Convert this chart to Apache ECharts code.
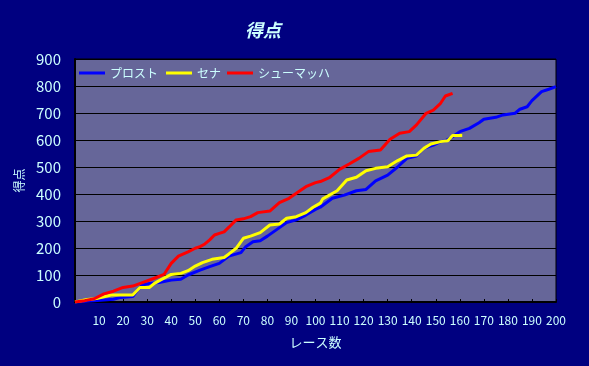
<!DOCTYPE html>
<html>
<head>
<meta charset="utf-8">
<script src="https://cdn.jsdelivr.net/npm/echarts@6/dist/echarts.min.js"></script>
<style>
html,body{margin:0;padding:0;background:#000080;}
#c{width:589px;height:366px;}
</style>
</head>
<body>
<div id="c"></div>
<script>
const titleText = '得点';
const yName = '得点';
const xName = 'レース数';
const seriesNames = ['プロスト', 'セナ', 'シューマッハ'];

const prostRaces = [0,8,16,19,24,26,28,31,35,40,44,47,52,56,60,64,69,71,74,77,80,84,88,92,96,100,102,107,112,117,121,125,130,134,138,142,145,149,152,154,157,160,164,168,170,175,178,183,185,188,190,194,197,200];
const prostPts   = [0,5,10,17,20,44,63,69,72,81,84,100,118,131,143,170,183,205,223,227,244,269,294,304,322,343,351,384,396,412,417,449,470,499,532,541,569,581,594,597,612,631,643,664,677,684,693,699,714,723,746,779,788,798];

const sennaRaces = [0,5,9,15,24,27,31,33,36,40,44,47,50,53,57,62,64,67,70,73,77,81,85,88,92,96,99,102,103,109,113,117,121,125,130,134,138,142,145,148,152,155,157,161];
const sennaPts   = [0,9,13,26,26,54,54,69,84,102,106,116,133,146,158,165,178,199,236,244,257,285,289,310,316,331,351,366,382,412,452,462,486,495,501,523,541,544,569,585,594,597,617,617];

const schumiRaces = [0,4,8,12,16,20,24,28,33,37,40,43,47,50,52,54,56,58,60,62,64,67,70,73,76,81,85,89,94,96,100,102,106,110,114,118,122,127,131,135,139,142,146,149,152,154,157];
const schumiPts   = [0,5,12,30,40,54,59,72,88,102,143,170,186,199,205,215,230,248,254,260,277,304,308,316,331,337,368,384,415,427,442,446,462,491,511,532,557,563,603,625,631,656,699,711,736,763,773];

const xTicks = {min:0, max:200, interval:10};
const yTicks = {min:0, max:900, interval:100};

const pair = (xs, ys) => xs.map((x, i) => [x, ys[i]]);
const txt = '#ccffff';
const font = '"Noto Sans CJK JP", "Noto Sans", sans-serif';
const legendLefts = [74, 161, 222];

const chart = echarts.init(document.getElementById('c'));
chart.setOption({
  backgroundColor: '#000080',
  animation: false,
  title: {
    text: titleText, left: 240, top: 16,
    textStyle: {color: txt, fontSize: 18, fontStyle: 'italic', fontWeight: 'bold', fontFamily: font}
  },
  legend: seriesNames.map((n, i) => ({
    data: [n], left: legendLefts[i], top: 62, itemWidth: 26, itemHeight: 3, icon: 'rect',
    textStyle: {color: txt, fontSize: 12, fontFamily: font}
  })),
  grid: {
    left: 75, right: 33, top: 59, bottom: 64, show: true,
    backgroundColor: '#666699', borderColor: '#000', borderWidth: 1
  },
  xAxis: {
    type: 'value', min: xTicks.min, max: xTicks.max, interval: xTicks.interval,
    name: xName, nameLocation: 'middle', nameGap: 34,
    nameTextStyle: {color: txt, fontSize: 13, fontFamily: font},
    axisLine: {show: true, lineStyle: {color: '#000', width: 2}},
    axisTick: {show: true, inside: true, length: 3, lineStyle: {color: '#000'}},
    axisLabel: {color: txt, fontSize: 12, fontFamily: font, margin: 12, formatter: v => v === 0 ? '' : v},
    splitLine: {show: false}
  },
  yAxis: {
    type: 'value', min: yTicks.min, max: yTicks.max, interval: yTicks.interval,
    name: yName, nameLocation: 'middle', nameGap: 44, nameRotate: 90,
    nameTextStyle: {color: txt, fontSize: 12, fontFamily: font},
    axisLine: {show: true, lineStyle: {color: '#000', width: 2}},
    axisTick: {show: false},
    axisLabel: {color: txt, fontSize: 15, fontFamily: font, margin: 14},
    splitLine: {show: true, lineStyle: {color: '#000', width: 1}}
  },
  series: [
    {name: seriesNames[0], type: 'line', data: pair(prostRaces, prostPts), showSymbol: false, symbol: 'none', lineStyle: {color: '#0000ff', width: 3}, itemStyle: {color: '#0000ff'}},
    {name: seriesNames[1], type: 'line', data: pair(sennaRaces, sennaPts), showSymbol: false, symbol: 'none', lineStyle: {color: '#ffff00', width: 3}, itemStyle: {color: '#ffff00'}},
    {name: seriesNames[2], type: 'line', data: pair(schumiRaces, schumiPts), showSymbol: false, symbol: 'none', lineStyle: {color: '#ff0000', width: 3}, itemStyle: {color: '#ff0000'}}
  ]
});
</script>
</body>
</html>
